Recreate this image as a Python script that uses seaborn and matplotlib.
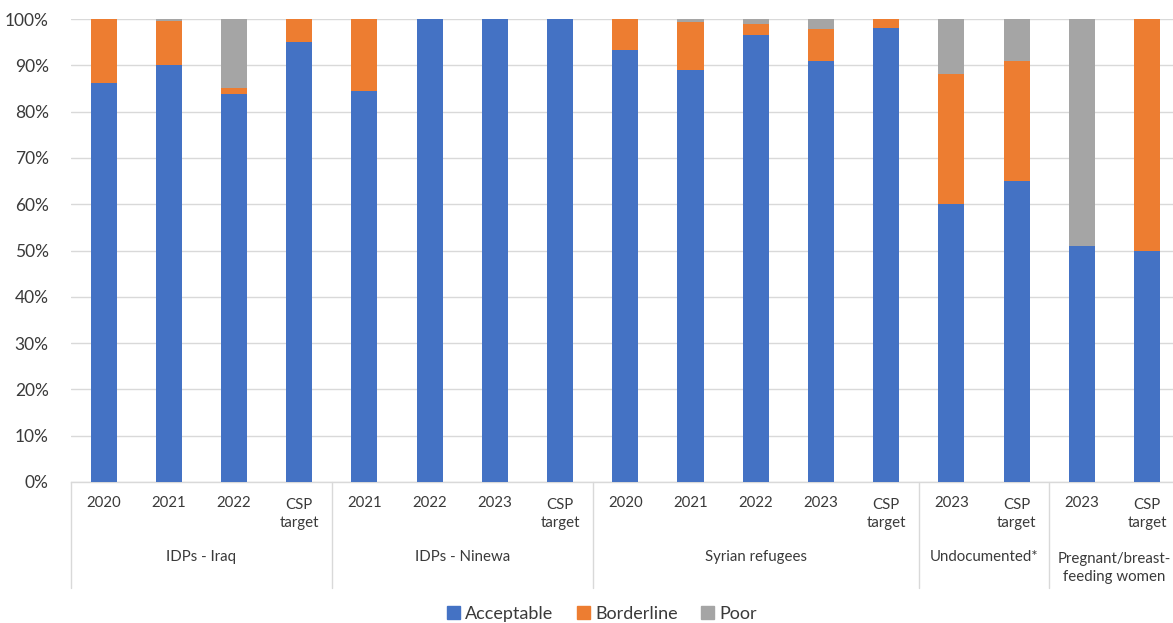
import matplotlib
matplotlib.use("Agg")
import matplotlib.pyplot as plt
import matplotlib.transforms as mtransforms
from matplotlib.patches import Patch
from matplotlib.lines import Line2D
import seaborn as sns
import pandas as pd
import numpy as np

# Food consumption score by population group (% of households)
groups = ["IDPs - Iraq", "IDPs - Ninewa", "Syrian refugees", "Undocumented*",
          "Pregnant/breast-\nfeeding women"]
group_sizes = [4, 4, 5, 2, 2]
bar_labels = ["2020", "2021", "2022", "CSP\ntarget",
              "2021", "2022", "2023", "CSP\ntarget",
              "2020", "2021", "2022", "2023", "CSP\ntarget",
              "2023", "CSP\ntarget",
              "2023", "CSP\ntarget"]
acceptable = [86.2, 90.1, 83.9, 95.0, 84.5, 100, 100, 100,
              93.4, 89.0, 96.6, 90.9, 98.0, 60.0, 65.0, 51.0, 50.0]
borderline = [13.8, 9.5, 1.3, 5.0, 15.5, 0, 0, 0,
              6.6, 10.4, 2.3, 6.9, 2.0, 28.2, 26.0, 0, 50.0]
poor = [0, 0.4, 14.8, 0, 0, 0, 0, 0,
        0, 0.6, 1.1, 2.2, 0, 11.8, 9.0, 49.0, 0]

series_names = ["Acceptable", "Borderline", "Poor"]
colors = ["#4472C4", "#ED7D31", "#A5A5A5"]

sns.set_theme(style="white")
plt.rcParams["font.family"] = ["Lato", "DejaVu Sans"]
text_color = "#3A3A3A"
line_color = "#D9D9D9"

W, H = 1173, 623
fig = plt.figure(figsize=(W / 100, H / 100), dpi=100)
ax = fig.add_axes([71 / W, 141 / H, 1108.6 / W, 463 / H])

n = len(bar_labels)
df = pd.DataFrame({
    "pos": np.arange(n),
    "acc": np.array(acceptable),
    "acc_bord": np.array(acceptable) + np.array(borderline),
    "total": np.array(acceptable) + np.array(borderline) + np.array(poor),
})

# Stacked bars drawn as cumulative layers, back to front
for col, c in [("total", colors[2]), ("acc_bord", colors[1]), ("acc", colors[0])]:
    sns.barplot(data=df, x="pos", y=col, order=list(range(n)), color=c,
                width=0.4, saturation=1, linewidth=0, ax=ax, zorder=3)

ax.set_xlim(-0.5, n - 0.5)
ax.set_ylim(0, 100)
ax.set_yticks(np.arange(0, 101, 10))
ax.set_yticklabels([f"{v}%" for v in range(0, 101, 10)], fontsize=12.5,
                   color=text_color)
ax.tick_params(axis="y", length=0, pad=16)
ax.set_xticks([])
ax.set_xlabel("")
ax.set_ylabel("")
ax.yaxis.grid(True, color=line_color, linewidth=1, zorder=0)
ax.set_axisbelow(True)
for s in ["top", "right", "left"]:
    ax.spines[s].set_visible(False)
ax.spines["bottom"].set_color(line_color)
ax.spines["bottom"].set_linewidth(1)

trans = mtransforms.blended_transform_factory(ax.transData, fig.transFigure)


def fy(px):
    return 1 - px / H


# Category labels under each bar
for i, lab in enumerate(bar_labels):
    y = 503 if "\n" not in lab else 514
    ax.text(i, fy(y), lab, transform=trans, ha="center", va="center",
            fontsize=10.8, color=text_color, linespacing=1.45)

# Group labels and separators
start = 0
bounds = [-0.5]
for g, size in zip(groups, group_sizes):
    center = start + (size - 1) / 2
    y = 557 if "\n" not in g else 568
    ax.text(center, fy(y), g, transform=trans, ha="center", va="center",
            fontsize=10.8, color=text_color, linespacing=1.45)
    start += size
    bounds.append(start - 0.5)
for b in bounds:
    fig.add_artist(Line2D([b, b], [fy(482), fy(588)], transform=trans,
                          color=line_color, linewidth=1))

handles = [Patch(facecolor=c, edgecolor=c, label=l)
           for c, l in zip(colors, series_names)]
fig.legend(handles=handles, loc="center", bbox_to_anchor=(602 / W, fy(614)),
           ncol=3, frameon=False, fontsize=13, handlelength=0.7,
           handleheight=0.7, handletextpad=0.3, columnspacing=1.3,
           labelcolor=text_color)

fig.savefig("out.png", dpi=100)
